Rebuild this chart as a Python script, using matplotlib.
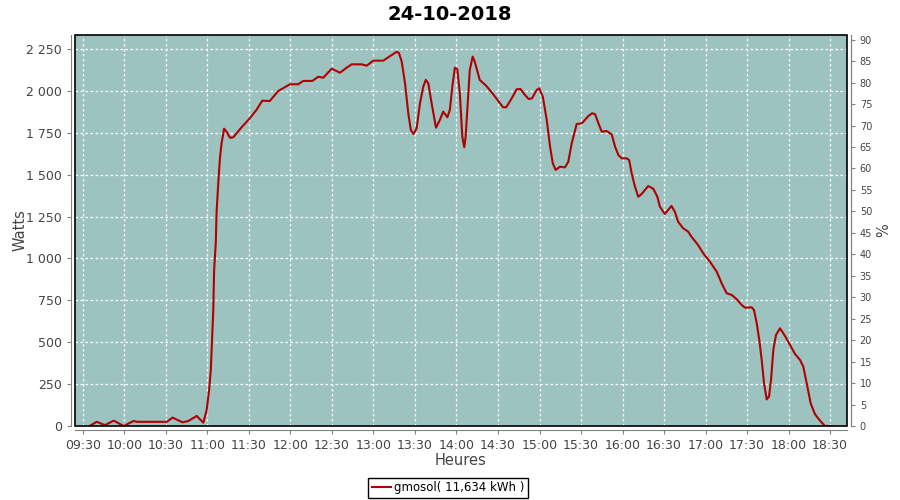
import matplotlib
matplotlib.use("Agg")
import matplotlib.pyplot as plt
from matplotlib.patches import Rectangle
from matplotlib.ticker import FuncFormatter, MultipleLocator

# time in decimal hours, power in watts
hours = [9.58, 9.665, 9.765, 9.87, 9.99, 10.11, 10.15, 10.51, 10.58, 10.70, 10.77, 10.87, 10.95,
         10.99, 11.02, 11.04, 11.055, 11.07, 11.08, 11.10, 11.11, 11.13, 11.15, 11.17, 11.20,
         11.23, 11.27, 11.31, 11.41, 11.51, 11.59, 11.66, 11.75, 11.853, 11.994, 12.094, 12.154,
         12.263, 12.335, 12.395, 12.496, 12.596, 12.677, 12.737, 12.858, 12.918, 12.998, 13.118,
         13.178, 13.28, 13.307, 13.34, 13.38, 13.419, 13.45, 13.48, 13.52, 13.56, 13.60, 13.63,
         13.66, 13.70, 13.753, 13.80, 13.84, 13.89, 13.92, 13.95, 13.98, 14.01, 14.04, 14.07,
         14.094, 14.11, 14.14, 14.16, 14.195, 14.22, 14.28, 14.36, 14.44, 14.56, 14.60, 14.665,
         14.725, 14.77, 14.825, 14.87, 14.91, 14.966, 14.997, 15.04, 15.087, 15.127, 15.16,
         15.195, 15.247, 15.307, 15.347, 15.388, 15.448, 15.51, 15.59, 15.635, 15.67, 15.71,
         15.75, 15.81, 15.87, 15.91, 15.95, 15.99, 16.05, 16.08, 16.11, 16.15, 16.19, 16.23,
         16.31, 16.37, 16.42, 16.45, 16.51, 16.59, 16.63, 16.67, 16.73, 16.79, 16.83, 16.91,
         16.973, 17.054, 17.135, 17.195, 17.255, 17.316, 17.376, 17.436, 17.476, 17.557, 17.584,
         17.617, 17.648, 17.677, 17.705, 17.737, 17.765, 17.789, 17.817, 17.849, 17.898, 17.958,
         18.018, 18.078, 18.139, 18.178, 18.219, 18.267, 18.319, 18.379, 18.44, 18.52]
watts = [0, 25, 5, 32, 0, 30, 25, 25, 50, 22, 30, 60, 20,
         95, 215, 334, 513, 692, 930, 1092, 1279, 1448, 1597, 1687, 1774,
         1756, 1720, 1722, 1782, 1836, 1886, 1941, 1939, 1999, 2039, 2039, 2059,
         2059, 2084, 2078, 2132, 2108, 2138, 2158, 2158, 2150, 2180, 2180,
         2200, 2233, 2225, 2174, 2045, 1866, 1766, 1742, 1776, 1926, 2025, 2065,
         2045, 1926, 1780, 1826, 1876, 1842, 1886, 2025, 2138, 2128, 1985, 1726,
         1663, 1726, 1965, 2124, 2204, 2174, 2065, 2029, 1981, 1902, 1902, 1955,
         2009, 2011, 1975, 1951, 1955, 2005, 2015, 1965, 1826, 1667, 1567,
         1528, 1547, 1543, 1577, 1687, 1802, 1806, 1850, 1866, 1860, 1806,
         1756, 1760, 1740, 1667, 1617, 1597, 1597, 1587, 1508, 1428, 1368, 1384,
         1432, 1416, 1368, 1309, 1265, 1313, 1279, 1219, 1180, 1160, 1130, 1080,
         1030, 980, 921, 851, 792, 782, 756, 722, 706, 708, 692,
         613, 513, 394, 255, 159, 175, 274, 454, 543, 583, 537,
         483, 430, 394, 354, 255, 135, 70, 32, 0, 0]

title = "24-10-2018"
series_label = "gmosol( 11,634 kWh )"

grey = "#808080"
text_col = "#444444"

fig = plt.figure(figsize=(9, 5), dpi=100)
ax = fig.add_axes([0.0833, 0.148, 0.8573, 0.782])
ax.set_facecolor("#9dc3c1")

ax.plot(hours, watts, color="#b00000", linewidth=1.5, label=series_label, zorder=3)

ax.set_xlim(9.4036, 18.699)
ax.set_ylim(0, 2333)
ax.xaxis.set_major_locator(MultipleLocator(0.5))
ax.yaxis.set_major_locator(MultipleLocator(250))
ax.xaxis.set_major_formatter(FuncFormatter(
    lambda v, p: "%02d:%02d" % (int(v), round((v - int(v)) * 60))))
ax.yaxis.set_major_formatter(FuncFormatter(
    lambda v, p: "{:,}".format(int(v)).replace(",", " ")))
ax.grid(True, color="white", linestyle=(0, (2, 2)), linewidth=0.9)
ax.set_axisbelow(True)

# second axis in percent
ax2 = ax.twinx()
ax2.set_ylim(0, 91.1)
ax2.yaxis.set_major_locator(MultipleLocator(5))

for a in (ax, ax2):
    for s in a.spines.values():
        s.set_color(grey)
        s.set_position(("outward", 3))
    a.spines["top"].set_visible(False)
    a.tick_params(colors=grey, labelcolor=text_col, labelsize=9, length=3)
ax2.spines["left"].set_visible(False)
ax2.spines["bottom"].set_visible(False)
ax2.tick_params(labelsize=7)

# black frame around the data area
ax.add_patch(Rectangle((0, 0), 1, 1, transform=ax.transAxes, fill=False,
                       edgecolor="black", linewidth=1.2, zorder=5, clip_on=False))

ax.set_ylabel("Watts", color=text_col, fontsize=10.5)
ax.yaxis.set_label_coords(-0.061, 0.5)
ax.set_xlabel("Heures", color=text_col, fontsize=10.5)
ax.xaxis.set_label_coords(0.5, -0.069)
ax2.set_ylabel("%", color=text_col, fontsize=10.5)
ax2.yaxis.set_label_coords(1.038, 0.5)
fig.suptitle(title, fontsize=14, fontweight="bold", y=0.99)

fig.legend(loc="center", bbox_to_anchor=(0.498, 0.024), fontsize=8.5,
           fancybox=False, edgecolor="black", framealpha=1,
           handlelength=1.6, handletextpad=0.3, borderpad=0.3, borderaxespad=0)

fig.savefig("out.png", dpi=100)
